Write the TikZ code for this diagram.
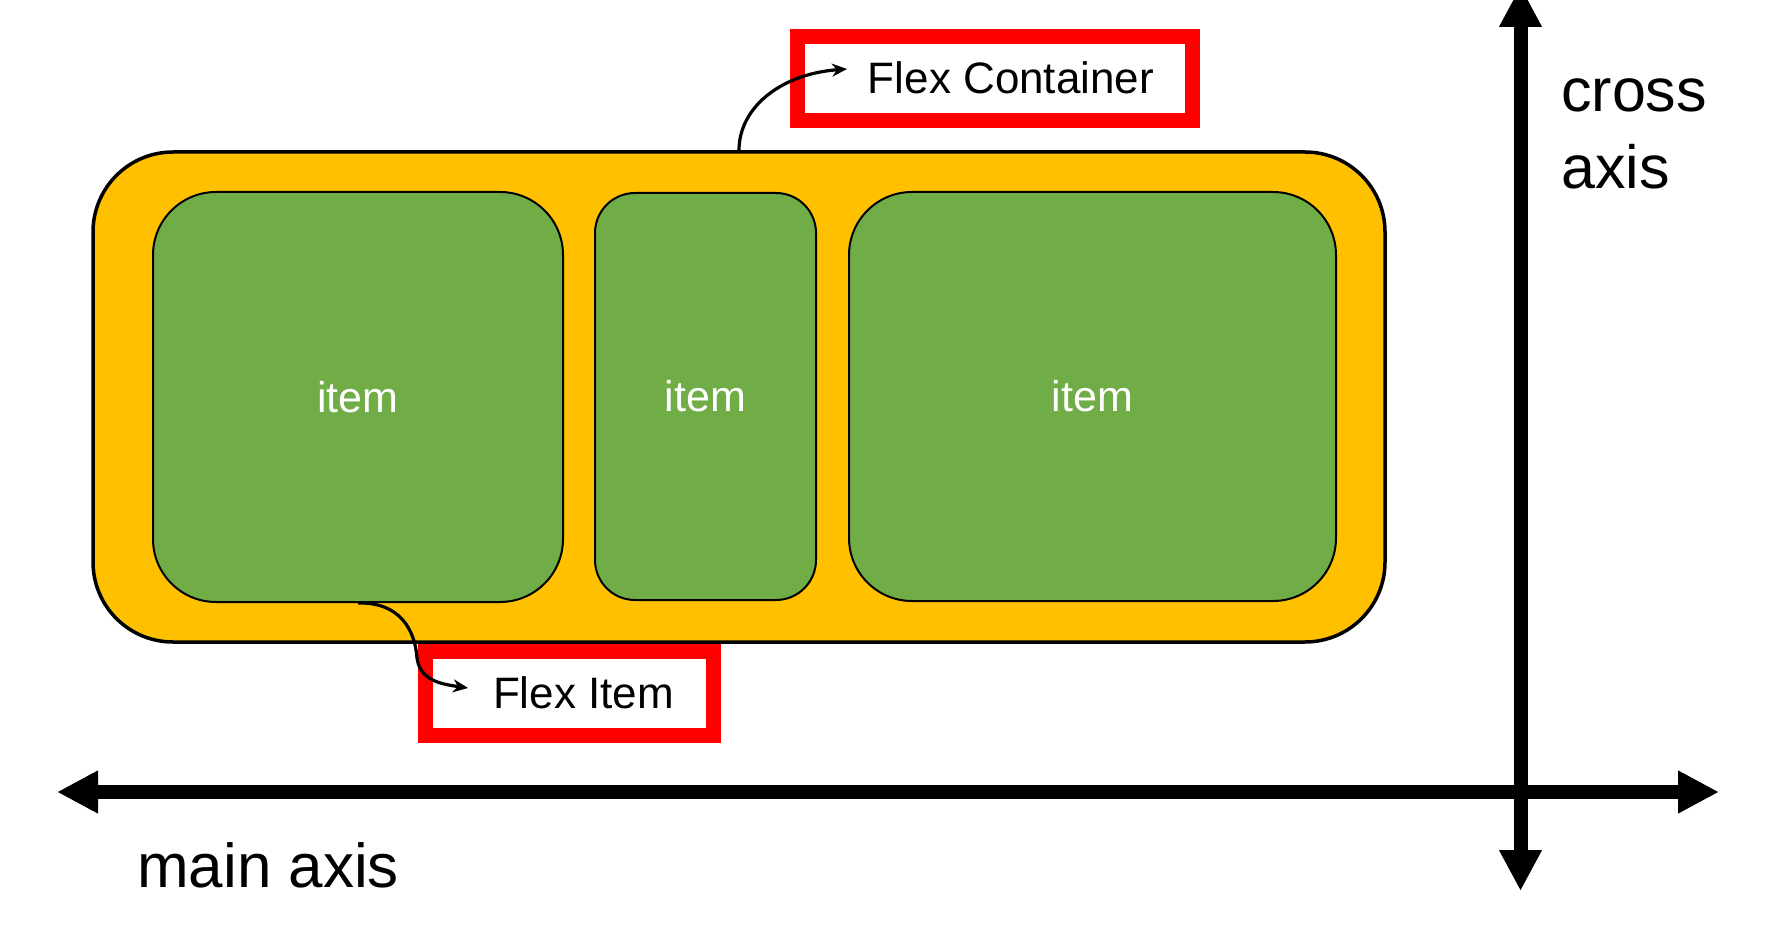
\documentclass[tikz,border=0pt]{standalone}
\usepackage{fontspec}
\setmainfont{Liberation Sans}
\usetikzlibrary{arrows.meta,calc}

\definecolor{boxyellow}{HTML}{FFC000}
\definecolor{itemgreen}{HTML}{70AD47}
\definecolor{tagred}{HTML}{FF0000}

\begin{document}
\begin{tikzpicture}[x=1pt,y=-1pt,
  container/.style={draw=black, line width=3.5pt, fill=boxyellow,
    rounded corners=80pt, minimum width=1292pt, minimum height=490pt, inner sep=0pt},
  itembox/.style={draw=black, line width=2pt, fill=itemgreen, inner sep=0pt,
    text=white, font=\fontsize{43}{50}\selectfont},
  tagbox/.style={draw=tagred, line width=15pt, inner sep=0pt},
  tagtext/.style={font=\fontsize{44}{52}\selectfont, inner sep=0pt, anchor=base},
  pointer/.style={line width=3.2pt, -{Stealth[length=15pt,width=13pt]}},
  axis/.style={line width=14pt,
    {Triangle[length=41pt,width=40pt]}-{Triangle[length=41pt,width=40pt]}},
  axislabel/.style={font=\fontsize{61}{77.5}\selectfont, inner sep=0pt,
    anchor=base west, align=left}
]
\useasboundingbox (0,0) rectangle (1783,925);

% flex container
\node[container] (cont) at (739,397) {};

% flex items
\node[itembox, rounded corners=63pt, minimum width=410pt, minimum height=410pt]
  (item1) at (358,397) {item};
\node[itembox, rounded corners=40pt, minimum width=221pt, minimum height=407pt]
  (item2) at (705.5,396.5) {item};
\node[itembox, rounded corners=63pt, minimum width=487pt, minimum height=409pt]
  (item3) at (1092.5,396.5) {item};

% labels in red frames
\node[tagbox, minimum width=394.5pt, minimum height=83.5pt] (fcbox) at (994.75,78.75) {};
\node[tagtext] (fctext) at (1011,94) {Flex Container};
\node[tagbox, minimum width=287.5pt, minimum height=84.5pt] (fibox) at (569.25,693.25) {};
\node[tagtext] (fitext) at (583.5,708) {Flex Item};

% pointers from the shapes to their labels
\coordinate (fctip) at (847,69);
\coordinate (fitip) at (468,688);
\draw[pointer] (cont.north) .. controls (739,108) and (780,74) .. (fctip);
\draw[pointer] (item1.south) .. controls (400,602) and (415,630) .. (417,658)
  .. controls (420,680) and (440,684) .. (fitip);

% axes
\coordinate (mleft) at (57,792);
\coordinate (mright) at (1719,792);
\coordinate (ctop) at (1520.5,-14);
\coordinate (cbottom) at (1520.5,891);
\draw[axis] (mleft) -- (mright);
\draw[axis] (ctop) -- (cbottom);

% the base of a two-line node is the baseline of its last line
\node[axislabel] (cross) at (1561,189) {cross\\axis};
\node[axislabel, font=\fontsize{62}{75}\selectfont] (main) at (137,887) {main axis};
\end{tikzpicture}
\end{document}
